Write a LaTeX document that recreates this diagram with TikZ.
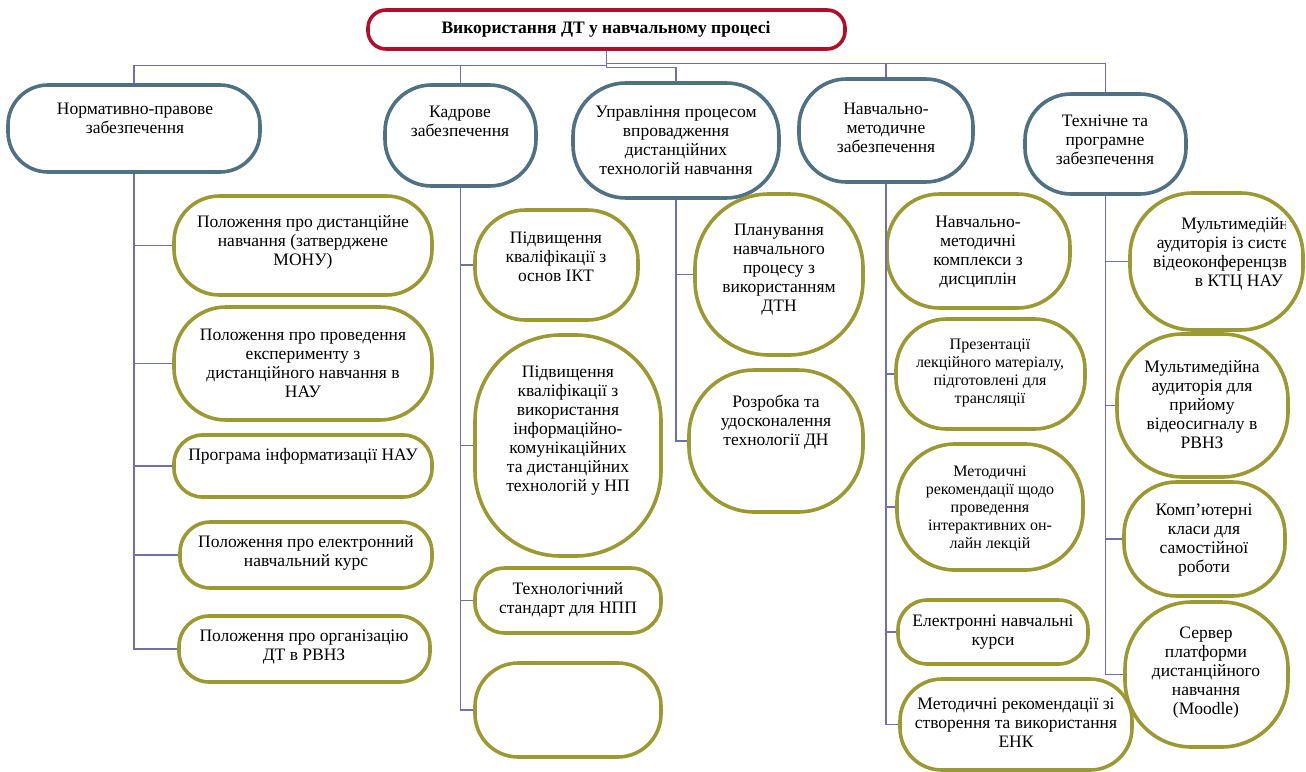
\documentclass[tikz,border=0pt]{standalone}
\usepackage{fontspec}
\setmainfont{Liberation Serif}
\definecolor{rootred}{RGB}{176,14,44}
\definecolor{headteal}{RGB}{79,113,130}
\definecolor{itemolive}{RGB}{155,153,50}
\definecolor{connblue}{RGB}{112,110,172}

\tikzset{
  pill/.style={draw, line width=3.6pt, fill=white, inner sep=0pt},
  rootbox/.style={pill, draw=rootred},
  headbox/.style={pill, draw=headteal},
  itembox/.style={pill, draw=itemolive},
  conn/.style={draw=connblue, line width=1.3pt},
  lbl/.style={inner sep=0pt, align=center, anchor=north,
    font=\fontsize{17.5}{19}\selectfont},
  lblsmall/.style={lbl, font=\fontsize{16}{18}\selectfont},
}

% rounded box given by its corners: style, name, x1, y1, x2, y2
\newcommand{\pillbox}[6]{%
  \pgfmathsetmacro{\pw}{#5-#3}\pgfmathsetmacro{\ph}{#6-#4}%
  \pgfmathsetmacro{\pr}{0.46*min(\pw,\ph)}%
  \pgfmathsetmacro{\px}{(#3+#5)/2}\pgfmathsetmacro{\py}{(#4+#6)/2}%
  \node[#1, minimum width=\pw pt, minimum height=\ph pt,
        rounded corners=\pr pt] (#2) at (\px,\py) {};}
% text block: style, name, x, centre of first line, text
\newcommand{\boxtext}[5]{%
  \node[#1] (#2) at (#3,{#4-9.3}) {\strut #5};}

\begin{document}
\begin{tikzpicture}[x=1pt,y=-1pt]
\useasboundingbox (0,0) rectangle (1306,771);

% top box
\pillbox{rootbox}{root}{368}{10}{845}{49}
\node[font=\fontsize{17.5}{19}\selectfont\bfseries, inner sep=0pt] (roott) at (606,29) {Використання ДТ у навчальному процесі};

% first level
\pillbox{headbox}{n1}{8}{85}{260}{172}
\boxtext{lbl}{n1t}{135}{110}{Нормативно-правове\\забезпечення}
\pillbox{headbox}{n2}{385}{85}{536}{186}
\boxtext{lbl}{n2t}{460}{113}{Кадрове\\забезпечення}
\pillbox{headbox}{n3}{573}{83}{779}{198}
\boxtext{lbl}{n3t}{676}{113}{Управління процесом\\впровадження\\дистанційних\\технологій навчання}
\pillbox{headbox}{n4}{799}{79}{973}{182}
\boxtext{lbl}{n4t}{886}{110}{Навчально-\\методичне\\забезпечення}
\pillbox{headbox}{n5}{1025}{94}{1186}{194}
\boxtext{lbl}{n5t}{1105}{122}{Технічне та\\програмне\\забезпечення}

% column 1
\pillbox{itembox}{a1}{174}{196}{432}{295}
\boxtext{lbl}{a1t}{303}{223}{Положення про дистанційне\\навчання (затверджене\\МОНУ)}
\pillbox{itembox}{a2}{174}{307}{432}{420}
\boxtext{lbl}{a2t}{303}{336}{Положення про проведення\\експерименту з\\дистанційного навчання в\\НАУ}
\pillbox{itembox}{a3}{174}{435}{432}{497}
\boxtext{lbl}{a3t}{303}{456}{Програма інформатизації НАУ}
\pillbox{itembox}{a4}{180}{522}{432}{588}
\boxtext{lbl}{a4t}{306}{543}{Положення про електронний\\навчальний курс}
\pillbox{itembox}{a5}{179}{616}{430}{682}
\boxtext{lbl}{a5t}{304}{637}{Положення про організацію\\ДТ в РВНЗ}

% column 2
\pillbox{itembox}{b1}{475}{210}{638}{320}
\boxtext{lbl}{b1t}{556}{239}{Підвищення\\кваліфікації з\\основ ІКТ}
\pillbox{itembox}{b2}{475}{335}{661}{556}
\boxtext{lbl}{b2t}{568}{373}{Підвищення\\кваліфікації з\\використання\\інформаційно-\\комунікаційних\\та дистанційних\\технологій у НП}
\pillbox{itembox}{b3}{475}{568}{661}{633}
\boxtext{lbl}{b3t}{568}{590}{Технологічний\\стандарт для НПП}
\pillbox{itembox}{b4}{475}{663}{661}{757}

% column 3
\pillbox{itembox}{c1}{695}{194}{863}{355}
\boxtext{lbl}{c1t}{779}{231}{Планування\\навчального\\процесу з\\використанням\\ДТН}
\pillbox{itembox}{c2}{689}{370}{863}{512}
\boxtext{lbl}{c2t}{776}{403}{Розробка та\\удосконалення\\технології ДН}

% column 4
\pillbox{itembox}{d1}{887}{194}{1070}{308}
\boxtext{lbl}{d1t}{978}{223}{Навчально-\\методичні\\комплекси з\\дисциплін}
\pillbox{itembox}{d2}{896}{319}{1085}{429}
\boxtext{lblsmall}{d2t}{990}{346}{Презентації\\лекційного матеріалу,\\підготовлені для\\трансляції}
\pillbox{itembox}{d3}{897}{444}{1083}{570}
\boxtext{lblsmall}{d3t}{990}{473}{Методичні\\рекомендації щодо\\проведення\\інтерактивних он-\\лайн лекцій}
\pillbox{itembox}{d4}{898}{600}{1088}{664}
\boxtext{lbl}{d4t}{993}{622}{Електронні навчальні\\курси}
\pillbox{itembox}{d5}{900}{679}{1132}{770}
\boxtext{lbl}{d5t}{1016}{705}{Методичні рекомендації зі\\створення та використання\\ЕНК}

% column 5
\pillbox{itembox}{e1}{1130}{193}{1303}{330}
\begin{scope}
  \clip (1100,150) rectangle (1285,350);
  \boxtext{lbl}{e1t}{1239}{225}{Мультимедійна\\аудиторія із системою\\відеоконференцзв’язку\\в КТЦ НАУ}
\end{scope}
\pillbox{itembox}{e2}{1117}{334}{1288}{477}
\boxtext{lbl}{e2t}{1202}{368}{Мультимедійна\\аудиторія для\\прийому\\відеосигналу в\\РВНЗ}
\pillbox{itembox}{e3}{1124}{482}{1285}{596}
\boxtext{lbl}{e3t}{1204}{511}{Комп’ютерні\\класи для\\самостійної\\роботи}
\pillbox{itembox}{e4}{1125}{602}{1288}{747}
\boxtext{lbl}{e4t}{1206}{634}{Сервер\\платформи\\дистанційного\\навчання\\(Moodle)}

% connectors from the top box
\draw[conn] (root.south) -- ++(0,15) -| (n1.north);
\draw[conn] (root.south) -- ++(0,15) -| (n2.north);
\draw[conn] (root.south) -- ++(0,17) -| (n3.north);
\draw[conn] (root.south) -- ++(0,13) -| (n4.north);
\draw[conn] (root.south) -- ++(0,13) -| (n5.north);

% connectors inside the columns
\foreach \c in {a1,a2,a3,a4,a5} \draw[conn] (n1.south) |- (\c.west);
\foreach \c in {b1,b2,b3,b4} \draw[conn] (n2.south) |- (\c.west);
\foreach \c in {c1,c2} \draw[conn] (n3.south) |- (\c.west);
\foreach \c in {d1,d2,d3,d4,d5} \draw[conn] (n4.south) |- (\c.west);
\foreach \c in {e1,e2,e3,e4} \draw[conn] (n5.south) |- (\c.west);
\end{tikzpicture}
\end{document}
